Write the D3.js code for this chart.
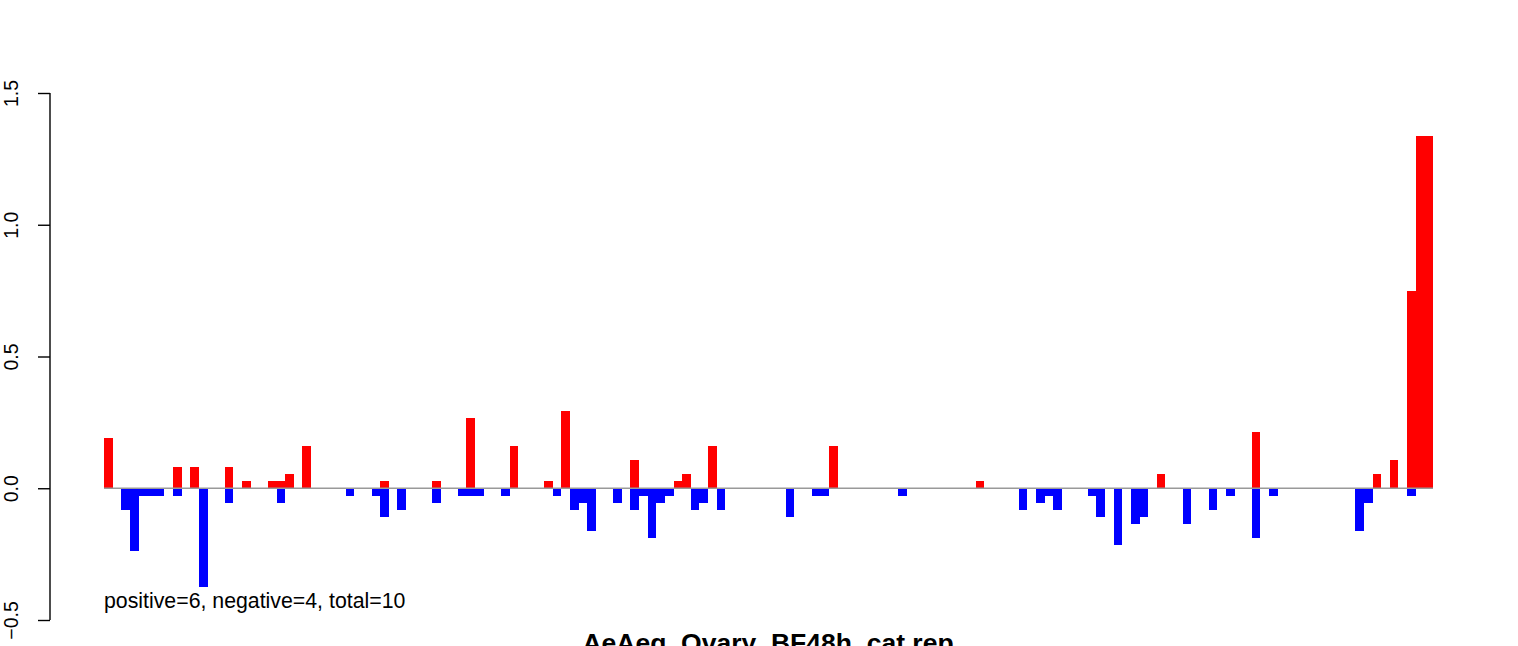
<!DOCTYPE html>
<html>
<head>
<meta charset="utf-8">
<script src="https://cdn.jsdelivr.net/npm/d3@7"></script>
<style>
  html, body { margin: 0; padding: 0; background: #fff; }
  svg { display: block; font-family: "Liberation Sans", Arial, sans-serif; }
</style>
</head>
<body>
<svg id="chart" width="1518" height="646"></svg>
<script>
// ---- data ----
const positive = [
  0.19,0,0,0,0,0,0,0,0.082,0,
  0.082,0,0,0,0.082,0,0.028,0,0,0.028,
  0.028,0.055,0,0.162,0,0,0,0,0,0,
  0,0,0.028,0,0,0,0,0,0.028,0,
  0,0,0.268,0,0,0,0,0.162,0,0,
  0,0.028,0,0.295,0,0,0,0,0,0,
  0,0.108,0,0,0,0,0.028,0.055,0,0,
  0.162,0,0,0,0,0,0,0,0,0,
  0,0,0,0,0.162,0,0,0,0,0,
  0,0,0,0,0,0,0,0,0,0,
  0,0.028,0,0,0,0,0,0,0,0,
  0,0,0,0,0,0,0,0,0,0,
  0,0,0.055,0,0,0,0,0,0,0,
  0,0,0,0.215,0,0,0,0,0,0,
  0,0,0,0,0,0,0,0.055,0,0.108,
  0,0.747,1.337,1.337
];
const negative = [
  0,0,-0.082,-0.24,-0.028,-0.028,-0.028,0,-0.028,0,
  0,-0.375,0,0,-0.055,0,0,0,0,0,
  -0.055,0,0,0,0,0,0,0,-0.028,0,
  0,-0.028,-0.108,0,-0.082,0,0,0,-0.055,0,
  0,-0.028,-0.028,-0.028,0,0,-0.028,0,0,0,
  0,0,-0.028,0,-0.082,-0.055,-0.162,0,0,-0.055,
  0,-0.082,-0.028,-0.19,-0.055,-0.028,0,0,-0.082,-0.055,
  0,-0.082,0,0,0,0,0,0,0,-0.108,
  0,0,-0.028,-0.028,0,0,0,0,0,0,
  0,0,-0.028,0,0,0,0,0,0,0,
  0,0,0,0,0,0,-0.082,0,-0.055,-0.028,
  -0.082,0,0,0,-0.028,-0.108,0,-0.215,0,-0.135,
  -0.108,0,0,0,0,-0.135,0,0,-0.082,0,
  -0.028,0,0,-0.19,0,-0.028,0,0,0,0,
  0,0,0,0,0,-0.162,-0.055,0,0,0,
  0,-0.028,0,0
];
const categories = d3.range(positive.length);
const yTicks = [-0.5, 0, 0.5, 1, 1.5];
const yTickLabels = ["\u22120.5", "0.0", "0.5", "1.0", "1.5"];
const title = "AeAeg_Ovary_BF48h_cat.rep";
const note = "positive=6, negative=4, total=10";

// ---- scales ----
const svg = d3.select("#chart");
const x = d3.scaleLinear().domain([0, categories.length]).range([104, 1433]);
const y = d3.scaleLinear().domain([-0.5, 1.5]).range([620, 93]);

// ---- bars ----
const gBars = svg.append("g").attr("shape-rendering", "crispEdges");
gBars.selectAll("rect.pos")
  .data(categories.filter(i => positive[i] > 0))
  .join("rect")
  .attr("x", i => x(i))
  .attr("width", i => x(i + 1) - x(i))
  .attr("y", i => y(positive[i]))
  .attr("height", i => y(0) - y(positive[i]))
  .attr("fill", "#ff0000");
gBars.selectAll("rect.neg")
  .data(categories.filter(i => negative[i] < 0))
  .join("rect")
  .attr("x", i => x(i))
  .attr("width", i => x(i + 1) - x(i))
  .attr("y", y(0))
  .attr("height", i => y(negative[i]) - y(0))
  .attr("fill", "#0000ff");

// ---- baseline ----
svg.append("line")
  .attr("x1", x(0)).attr("x2", x(categories.length))
  .attr("y1", y(0)).attr("y2", y(0))
  .attr("stroke", "#999").attr("stroke-width", 1.5);

// ---- y axis ----
const yAxis = d3.axisLeft(y)
  .tickValues(yTicks)
  .tickSize(12)
  .tickPadding(0)
  .tickFormat((d, i) => yTickLabels[i]);
const gy = svg.append("g").attr("transform", "translate(50,0)").call(yAxis);
gy.select(".domain").attr("stroke", "#000").attr("stroke-width", 1.4)
  .attr("d", `M0,${y(1.5)}V${y(-0.5)}`);
gy.selectAll(".tick line").attr("stroke", "#000").attr("stroke-width", 1.4);
gy.selectAll(".tick text")
  .attr("font-size", 19.5)
  .attr("fill", "#000")
  .attr("text-anchor", "middle")
  .attr("x", null).attr("dy", null)
  .attr("transform", "translate(-32.5,0) rotate(-90)")
  .attr("y", 0);

// ---- annotation ----
svg.append("text")
  .attr("x", 104).attr("y", 607.5)
  .attr("font-size", 21.3)
  .attr("fill", "#000")
  .text(note);

// ---- title ----
svg.append("text")
  .attr("x", 768).attr("y", 652)
  .attr("text-anchor", "middle")
  .attr("font-size", 26.5)
  .attr("font-weight", "bold")
  .attr("fill", "#000")
  .text(title);
</script>
</body>
</html>
